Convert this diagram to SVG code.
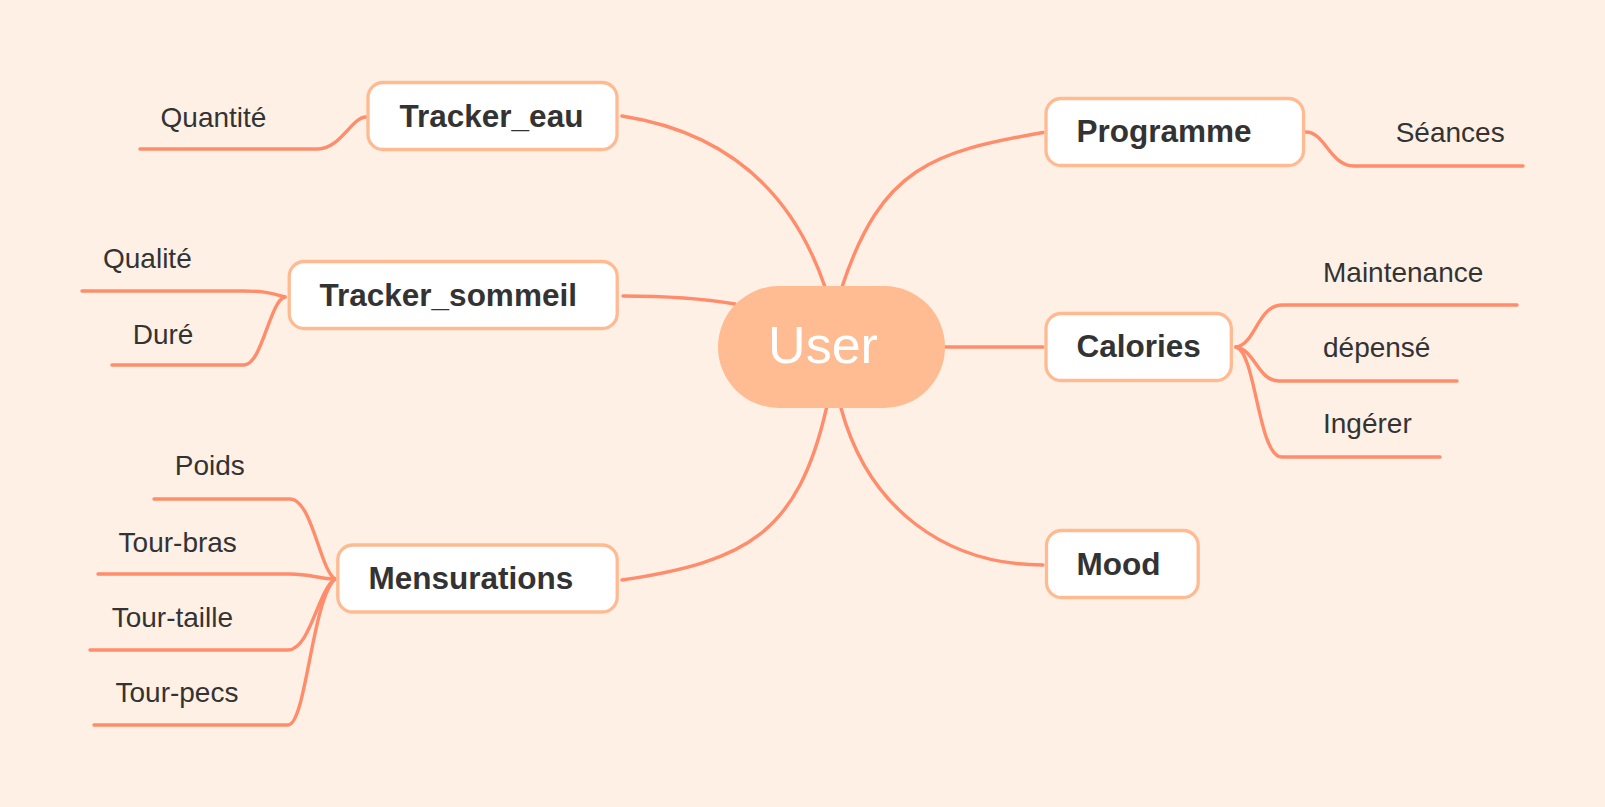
<svg xmlns="http://www.w3.org/2000/svg" width="1605" height="807" viewBox="0 0 1605 807">
<style>
.bg{fill:#FFF0E6}
.c{fill:none;stroke:#FF8C6B;stroke-width:3.4;stroke-linecap:round;stroke-linejoin:round}
.box{fill:#FFFFFF;stroke:#FFBA92;stroke-width:3.3}
.t{font-family:"Liberation Sans",Arial,sans-serif;font-weight:bold;font-size:31.5px;fill:#333333}
.s{font-family:"Liberation Sans",Arial,sans-serif;font-size:28px;fill:#333333}
.u{font-family:"Liberation Sans",Arial,sans-serif;font-size:52px;fill:#FFFFFF}
</style>
<rect class="bg" x="0" y="0" width="1605" height="807"/>
<g id="connectors">
<path class="c" d="M825 287 C792 190 725 132 622 116"/>
<path class="c" d="M842 287 C881.6 167 933 151.8 1043 132.5"/>
<path class="c" d="M826.5 408 C797.75 533 747 561.25 622 580"/>
<path class="c" d="M841 408 C868 508 945 565 1043 565"/>
<path class="c" d="M735 304 C700 298 660 296 623 296"/>
<path class="c" d="M945 347 L1043 347"/>
<path class="c" d="M366 117 C352 117 340 149 318 149 L140 149"/>
<path class="c" d="M285 297 C268 292 260 291 243 291 L82 291"/>
<path class="c" d="M285 297 C270 300 262 365 244 365 L112 365"/>
<path class="c" d="M154 499 L290 499 C312 499 320 570 335 579"/>
<path class="c" d="M98 574 L290 574 C310 574 320 579 335 579"/>
<path class="c" d="M90 650 L288 650 C310 650 318 590 335 579"/>
<path class="c" d="M94 725 L288 725 C306 725 312 600 335 579"/>
<path class="c" d="M1306 132 C1325 132 1330 166 1354 166 L1523 166"/>
<path class="c" d="M1236 347 C1255 345 1258 305 1282 305 L1517 305"/>
<path class="c" d="M1236 347 C1255 350 1258 381 1279 381 L1457 381"/>
<path class="c" d="M1236 347 C1256 352 1258 457 1282 457 L1440 457"/>
</g>
<g id="user">
<rect x="718" y="286" width="227" height="122" rx="61" fill="#FFBB91"/>
<text class="u" x="823" y="363" text-anchor="middle">User</text>
</g>
<g id="tracker_eau">
<rect class="box" x="368" y="82.5" width="249" height="67" rx="15"/>
<text class="t" x="399.5" y="127">Tracker_eau</text>
</g>
<g id="tracker_sommeil">
<rect class="box" x="289.2" y="261.5" width="328" height="67" rx="15"/>
<text class="t" x="319.5" y="306">Tracker_sommeil</text>
</g>
<g id="mensurations">
<rect class="box" x="337.8" y="545" width="279.4" height="67" rx="15"/>
<text class="t" x="368.5" y="589">Mensurations</text>
</g>
<g id="programme">
<rect class="box" x="1046" y="98.5" width="257.5" height="67" rx="15"/>
<text class="t" x="1076.5" y="142">Programme</text>
</g>
<g id="calories">
<rect class="box" x="1046" y="313.5" width="185.3" height="67" rx="15"/>
<text class="t" x="1076.5" y="357">Calories</text>
</g>
<g id="mood">
<rect class="box" x="1046.5" y="530.5" width="151.7" height="67" rx="15"/>
<text class="t" x="1076.5" y="575">Mood</text>
</g>
<g id="quantite"><text class="s" x="160.6" y="127">Quantité</text></g>
<g id="qualite"><text class="s" x="103" y="267.5">Qualité</text></g>
<g id="dure"><text class="s" x="132.7" y="343.5">Duré</text></g>
<g id="poids"><text class="s" x="174.8" y="475">Poids</text></g>
<g id="tour_bras"><text class="s" x="118.6" y="551.7">Tour-bras</text></g>
<g id="tour_taille"><text class="s" x="111.7" y="626.7">Tour-taille</text></g>
<g id="tour_pecs"><text class="s" x="115.5" y="701.7">Tour-pecs</text></g>
<g id="seances"><text class="s" x="1395.7" y="141.7">Séances</text></g>
<g id="maintenance"><text class="s" x="1323" y="281.7">Maintenance</text></g>
<g id="depense"><text class="s" x="1323" y="356.7">dépensé</text></g>
<g id="ingerer"><text class="s" x="1323" y="433.3">Ingérer</text></g>
</svg>
